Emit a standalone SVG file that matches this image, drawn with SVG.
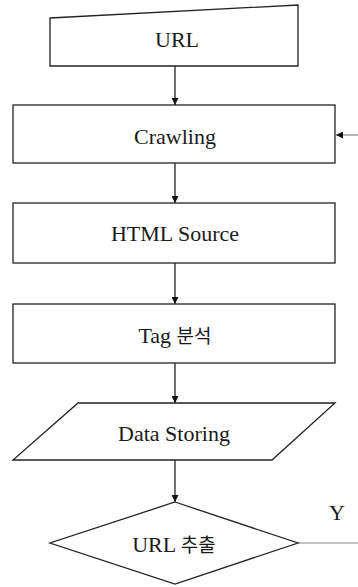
<svg xmlns="http://www.w3.org/2000/svg" width="358" height="587" viewBox="0 0 358 587">
<style>
.shape{fill:#fff;stroke:#222;stroke-width:1.3}
.lbl{font-family:'Liberation Serif','DejaVu Serif',serif;font-size:22px;fill:#1a1a1a;text-anchor:middle}
.ko{font-family:'Noto Sans CJK KR',sans-serif;font-size:19px}
.con{stroke:#111;stroke-width:1.2;fill:none}
.side{stroke:#888;stroke-width:1.2;fill:none}
</style>
<defs>
<marker id="ah" viewBox="0 0 10 10" refX="10" refY="5" markerWidth="7" markerHeight="7" markerUnits="userSpaceOnUse" orient="auto"><path d="M0,0 L10,5 L0,10 Z" fill="#111"/></marker>
</defs>
<g id="connectors">
<line class="con" x1="175" y1="66" x2="175" y2="105" marker-end="url(#ah)"/>
<line class="con" x1="175" y1="163" x2="175" y2="203" marker-end="url(#ah)"/>
<line class="con" x1="175" y1="263" x2="175" y2="304" marker-end="url(#ah)"/>
<line class="con" x1="175" y1="363" x2="175" y2="403" marker-end="url(#ah)"/>
<line class="con" x1="175" y1="460" x2="175" y2="502" marker-end="url(#ah)"/>
<line class="side" x1="358" y1="135" x2="336" y2="135" marker-end="url(#ah)"/>
<line class="side" x1="298" y1="543" x2="358" y2="543"/>
<text class="lbl" x="337" y="520" font-family="Liberation Serif">Y</text>
</g>
<g id="url">
<polygon class="shape" points="50,18 298,5 298,66 50,66"/>
<text class="lbl" x="177" y="47">URL</text>
</g>
<g id="crawling">
<rect class="shape" x="13" y="105" width="322" height="58"/>
<text class="lbl" x="175" y="144">Crawling</text>
</g>
<g id="html">
<rect class="shape" x="13" y="203" width="322" height="60"/>
<text class="lbl" x="175" y="241">HTML Source</text>
</g>
<g id="tag">
<rect class="shape" x="13" y="304" width="322" height="59"/>
<text class="lbl" x="175" y="343">Tag <tspan class="ko">분석</tspan></text>
</g>
<g id="data">
<polygon class="shape" points="78,403 335,403 272,460 13,460"/>
<text class="lbl" x="174" y="441">Data Storing</text>
</g>
<g id="extract">
<polygon class="shape" points="175,502 298,543 175,584 50,543"/>
<text class="lbl" x="174" y="552">URL <tspan class="ko">추출</tspan></text>
</g>
</svg>
